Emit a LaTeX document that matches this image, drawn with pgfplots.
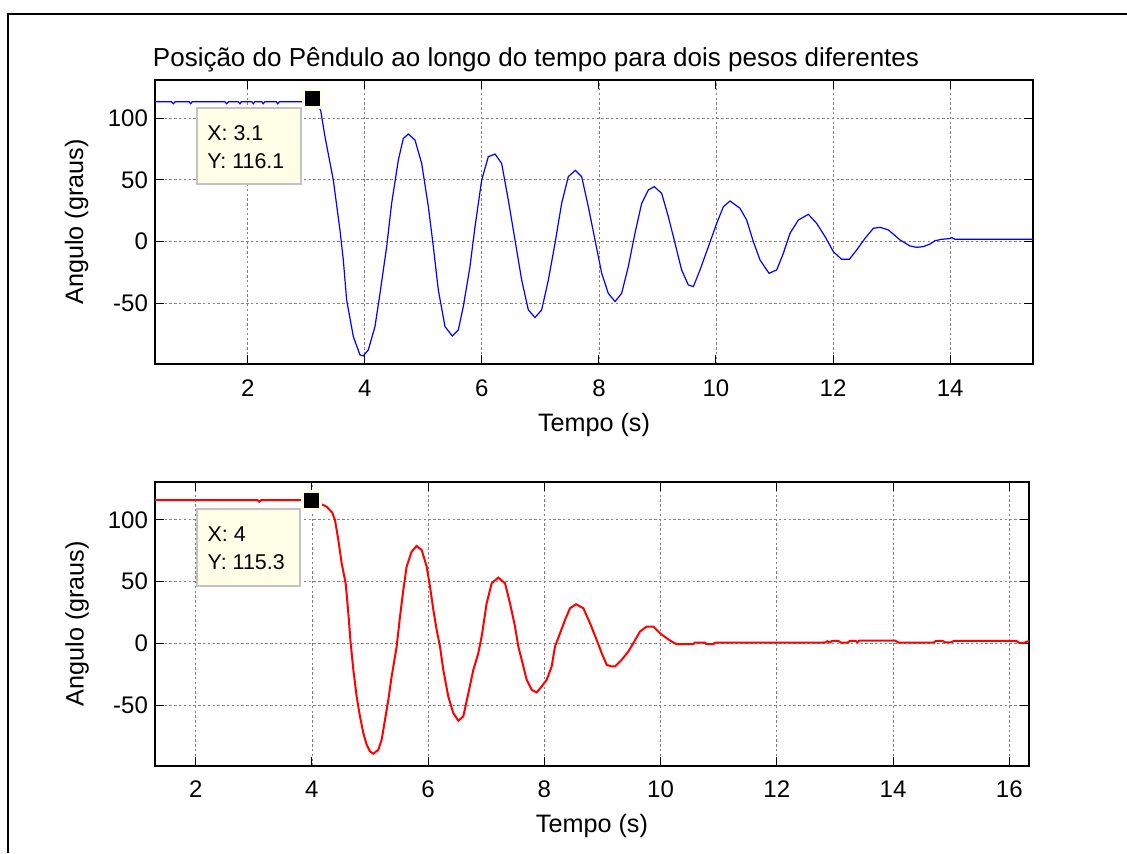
\documentclass[border=0pt]{standalone}
\usepackage{pgfplots}
\pgfplotsset{compat=1.18}
\usepackage{fontspec}
\setmainfont{Liberation Sans}
\definecolor{tipbg}{RGB}{255,255,232}
\definecolor{tipedge}{RGB}{195,195,195}
\definecolor{gridc}{RGB}{130,130,130}
\pgfplotsset{
  mlstyle/.style={
    scale only axis,
    height=142pt,
    ymin=-99, ymax=130.8,
    ytick={-50,0,50,100},
    tick align=inside,
    tick pos=both,
    major tick length=4.5pt,
    axis line style={line width=0.8pt},
    every tick/.style={black, line width=0.5pt},
    grid=major,
    major grid style={gridc, line width=0.4pt, dash pattern=on 1.2pt off 1.2pt},
    /pgf/number format/assume math mode=true,
    tick label style={font=\fontsize{12}{14}\selectfont},
    xticklabel style={anchor=base, yshift=-16pt},
    yticklabel style={anchor=east},
    label style={font=\fontsize{12.6}{15}\selectfont},
    xlabel style={at={(axis description cs:0.5,-0.236)}, anchor=base},
    ylabel style={at={(axis description cs:-0.0892,0.5)}, anchor=center},
    clip mode=individual,
    xlabel={Tempo (s)},
    ylabel={Angulo (graus)},
  },
  tipmark/.style={only marks, mark=square*, mark size=4.5pt, mark options={fill=black, draw=tipbg, line width=1.5pt}},
}
\begin{document}
\begin{tikzpicture}
\path[use as bounding box] (0,0) rectangle (563.5pt,-426.5pt);
\draw[line width=1pt] (4.15pt,-426.5pt) -- (4.15pt,-7pt) -- (563.5pt,-7pt);
\node[anchor=base, font=\fontsize{13}{15}\selectfont] at (268pt,-33pt) {Posição do Pêndulo ao longo do tempo para dois pesos diferentes};

\begin{axis}[mlstyle, width=439pt, at={(77.5pt,-40pt)}, anchor=north west,
  xmin=0.416, xmax=15.416, xtick={2,4,...,14}]
\addplot[blue, line width=0.6pt] coordinates {
(0.416,113.2) (0.70,113.2) (0.73,111.6) (0.76,113.2) (1.0,113.2) (1.026,111.6) (1.05,113.2)
(1.61,113.2) (1.641,111.6) (1.67,113.2) (1.84,113.2) (1.868,111.6) (1.89,113.2)
(2.07,113.2) (2.096,111.6) (2.12,113.2) (2.24,113.2) (2.266,111.6) (2.29,113.2)
(2.49,113.2) (2.512,111.6) (2.54,113.2) (3.0,113.2) (3.1,116.1)
(3.246,106.4) (3.32,84.9) (3.462,49.9) (3.576,9.4) (3.633,-14.8) (3.69,-47.2) (3.804,-76.8)
(3.918,-91.6) (3.975,-92.4) (4.06,-87.6) (4.174,-68.7) (4.26,-41.8) (4.374,-4.0) (4.459,31)
(4.573,66.0) (4.658,83.5) (4.744,87.1) (4.858,82.2) (4.972,63.3) (5.086,28.3) (5.171,-4.0)
(5.256,-39.1) (5.37,-68.7) (5.495,-76.3) (5.598,-71.4) (5.683,-52.5) (5.797,-20.2) (5.883,12.1)
(5.997,49.9) (6.11,68.7) (6.225,70.9) (6.338,63.3) (6.452,33.7) (6.566,1.4) (6.68,-31)
(6.794,-55.2) (6.908,-61.4) (7.022,-55.2) (7.136,-31) (7.25,-1.3) (7.363,31) (7.477,52.6)
(7.597,57.7) (7.705,52.6) (7.819,28.3) (7.933,1.4) (8.047,-25.6) (8.16,-41.8) (8.275,-48.5)
(8.388,-41.8) (8.502,-20.2) (8.616,6.8) (8.73,31) (8.844,41.8) (8.947,44.5) (9.072,39.1)
(9.186,20.2) (9.3,-1.3) (9.413,-22.9) (9.527,-35.0) (9.613,-36.4) (9.727,-22.9) (9.87,-4)
(10.012,14.8) (10.126,28.3) (10.24,32.9) (10.41,27) (10.524,17.5) (10.638,0) (10.752,-14.8)
(10.906,-25.6) (11.037,-22.9) (11.151,-9.4) (11.265,6.8) (11.407,17.5) (11.578,22.1) (11.72,14.8)
(11.863,4.1) (12.005,-8.1) (12.147,-14.3) (12.278,-14.3) (12.404,-6.7) (12.546,2.7) (12.688,10.8)
(12.802,11.6) (12.945,9.5) (13.144,1.4) (13.315,-3.5) (13.429,-4.6) (13.543,-4) (13.657,-1.9)
(13.742,0.8) (13.856,1.9) (13.998,2.5) (14.027,3.3) (14.084,1.9) (15.416,1.9)
};
\draw[fill=tipbg, draw=tipedge, line width=0.6pt] (axis cs:1.134,108.1) rectangle (axis cs:2.910,46.6);
\node[anchor=base west, inner sep=0pt, font=\fontsize{10.7}{12}\selectfont] at (axis cs:1.304,82.2) {X: 3.1};
\node[anchor=base west, inner sep=0pt, font=\fontsize{10.7}{12}\selectfont] at (axis cs:1.304,58.8) {Y: 116.1};
\addplot[tipmark] coordinates {(3.1,116.1)};
\end{axis}

\begin{axis}[mlstyle, width=437pt, at={(77.5pt,-240.85pt)}, anchor=north west,
  xmin=1.30, xmax=16.34, xtick={2,4,...,16}]
\addplot[red, line width=1pt] coordinates {
(1.30,116) (3.06,116) (3.095,114.6) (3.13,116) (3.95,116) (4.0,115.3) (4.12,113.5)
(4.254,110.6) (4.351,105.7) (4.397,99.8) (4.455,83.6) (4.512,64.8) (4.581,48.6) (4.627,24.4)
(4.667,0.1) (4.713,-21.4) (4.77,-43) (4.827,-59.1) (4.885,-72.6) (4.942,-82) (5.0,-87.4)
(5.057,-89.3) (5.143,-86.1) (5.2,-78) (5.258,-61.8) (5.315,-45.7) (5.372,-26.8) (5.43,-10.6)
(5.458,-2.6) (5.516,21.7) (5.573,43.2) (5.63,62.1) (5.716,74.2) (5.802,78.8) (5.889,75.6)
(5.975,62.1) (6.032,45.9) (6.09,27.1) (6.147,10.9) (6.204,-2.6) (6.261,-21.4) (6.347,-43)
(6.433,-56.4) (6.52,-62.6) (6.605,-59.1) (6.692,-40.3) (6.778,-21.4) (6.864,-7.9) (6.921,5.5)
(7.007,32.4) (7.093,48.6) (7.208,53.2) (7.323,48.6) (7.409,32.5) (7.495,13.6) (7.552,-2.6)
(7.61,-13.3) (7.696,-29.5) (7.782,-37.6) (7.868,-39.7) (7.954,-34.9) (8.04,-29.5) (8.126,-18.7)
(8.183,-2.6) (8.27,8.2) (8.356,19) (8.441,28.4) (8.545,31.7) (8.671,28.4) (8.786,16.3)
(8.9,2.8) (8.987,-7.9) (9.073,-17.4) (9.159,-18.7) (9.216,-18.7) (9.331,-13.3) (9.445,-6.6)
(9.531,0.2) (9.646,9.6) (9.761,13.6) (9.876,13.6) (9.99,8.2) (10.105,4.2) (10.191,1.5)
(10.277,-0.7) (10.564,-0.7) (10.59,0.7) (10.765,0.7) (10.79,-0.7) (10.908,-0.7) (10.94,0.7)
(12.83,0.7) (12.87,1.7) (12.916,0.7) (12.95,2.0) (13.06,2.0) (13.1,0.7) (13.22,0.7)
(13.26,2) (13.35,2) (13.39,1) (13.42,2.3) (14.035,2.3) (14.09,0.7) (14.7,0.7) (14.74,2)
(14.85,2) (14.9,0.8) (15.0,0.8) (15.05,2) (16.12,2) (16.17,0.5) (16.26,0.5) (16.34,2)
};
\draw[fill=tipbg, draw=tipedge, line width=0.6pt] (axis cs:2.022,108.7) rectangle (axis cs:3.795,46.5);
\node[anchor=base west, inner sep=0pt, font=\fontsize{10.7}{12}\selectfont] at (axis cs:2.2,82.1) {X: 4};
\node[anchor=base west, inner sep=0pt, font=\fontsize{10.7}{12}\selectfont] at (axis cs:2.2,59.4) {Y: 115.3};
\addplot[tipmark] coordinates {(4,115.3)};
\end{axis}
\end{tikzpicture}
\end{document}
